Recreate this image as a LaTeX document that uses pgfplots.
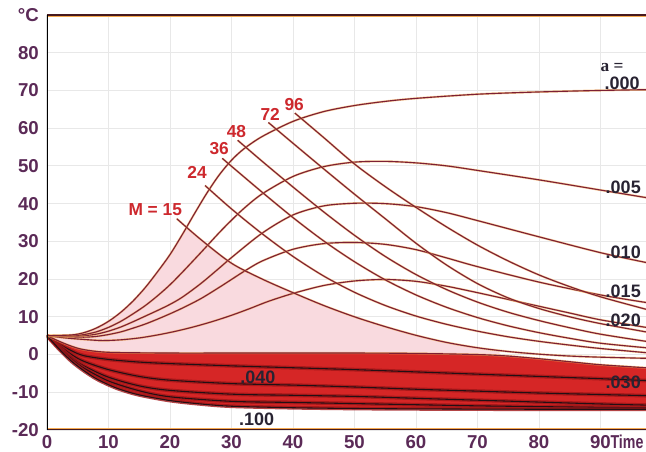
\documentclass[border=0pt]{standalone}
\usepackage{pgfplots}
\pgfplotsset{compat=1.18}
\usepackage{pgfplotstable}
\usepackage{fontspec}
\setmainfont{Liberation Sans}
\newfontfamily\serifa{Liberation Serif}
\definecolor{tickc}{RGB}{91,42,87}
\definecolor{mred}{RGB}{205,40,45}
\definecolor{alc}{RGB}{125,32,52}
\definecolor{glow}{RGB}{245,170,80}
\definecolor{pinkf}{RGB}{249,218,223}
\definecolor{redf}{RGB}{214,38,38}
\definecolor{redd}{RGB}{160,22,24}
\definecolor{blk}{RGB}{35,15,20}
\definecolor{labc}{RGB}{40,35,50}
\definecolor{frame}{RGB}{70,25,30}

\pgfplotstableread{
t T
0 5
4 5.2
6 5.8
8 7
10 8.8
12 11.2
14 14.2
16 17.8
18 22
20 26.5
22 31.8
24 37.4
26 42.8
28 47.6
30 51.5
32 54.5
35 57.8
40 61.8
45 64.4
50 66
55 67.1
60 67.9
70 69
80 69.6
90 70
97.4 70.2
}\aZero
\pgfplotstableread{
t T
0 5
4 5
6 5.3
8 6
10 7.2
12 8.8
14 10.8
16 13
18 15.6
20 18.5
22 21.8
25 27
28 32.3
30 35.6
32 38.7
35 42.6
40 47.2
45 49.8
50 51
55 51.2
60 50.8
65 50
70 48.8
80 46.3
90 43.6
97.4 41.6
}\aFive
\pgfplotstableread{
t T
0 5
4 4.9
6 5
8 5.4
10 6.2
12 7.3
14 8.7
16 10.2
18 11.7
20 13.3
22 15.2
25 18.8
28 22.9
30 25.7
35 32.2
40 37
45 39.4
50 40.1
55 40
60 39.2
65 37.6
70 35.5
80 31.2
90 27
97.4 24.4
}\aTen
\pgfplotstableread{
t T
0 5
4 4.7
6 4.6
8 4.8
10 5.3
12 6
14 7
16 8.1
18 9.4
20 10.8
22 12.3
25 14.8
28 17.8
30 19.9
32 22
35 24.8
40 27.9
45 29.4
50 29.7
55 29.2
60 27.8
65 25.6
70 23.3
80 19.2
90 15.8
97.4 13.8
}\aFifteen
\pgfplotstableread{
t T
0 5
3 4.4
6 4
9 3.7
12 3.9
15 4.4
18 5.2
21 6.2
24 7.4
27 8.8
30 10.4
33 12.2
36 14.1
40 16.2
45 18.3
50 19.5
55 19.9
60 19.4
65 18.1
70 16.4
75 14.6
80 12.8
85 11
90 9.2
97.4 7.2
}\aTwenty
\pgfplotstableread{
t T
0 5
2 3.5
4 2.2
6 1.3
10 0.6
20 0.4
30 0.4
40 0.4
50 0.4
60 0.3
70 0
75 -0.4
80 -1.1
85 -1.9
90 -2.7
97.4 -3.5
}\aThirty
\pgfplotstableread{
t T
0 5
2 2.8
4 1
6 -0.3
10 -1.3
15 -2
20 -2.4
30 -3
40 -3.5
50 -4
60 -4.6
70 -5.2
80 -5.8
90 -6.4
97.4 -6.9
}\aForty
\pgfplotstableread{
t T
0 5
2 2.4
4 0
6 -1.8
10 -4
15 -5.8
20 -6.8
30 -7.7
40 -8.1
50 -8.6
60 -9.2
70 -9.7
80 -10.2
90 -10.6
97.4 -10.9
}\aFifty
\pgfplotstableread{
t T
0 5
2 2
4 -0.8
6 -3
10 -6
15 -8.3
20 -9.5
30 -10.5
40 -10.8
50 -11.1
60 -11.6
70 -12.1
80 -12.6
90 -13.1
97.4 -13.4
}\aSixty
\pgfplotstableread{
t T
0 5
2 1.7
4 -1.2
6 -3.6
10 -7
15 -9.6
20 -11.2
30 -12.4
40 -12.7
50 -13
60 -13.3
70 -13.6
80 -13.8
90 -14
97.4 -14.1
}\aEighty
\pgfplotstableread{
t T
0 5
2 1.4
4 -1.8
6 -4.3
8 -6.4
10 -8
12 -9.3
15 -10.7
20 -12.2
25 -13.1
30 -13.7
40 -14.1
50 -14.3
60 -14.4
80 -14.5
97.4 -14.5
}\aHundred
\pgfplotstableread{
t T
21.1 36
25 30.5
30 24.2
35 20
40 16.4
45 13
50 10
55 7.4
60 5.1
65 3.2
70 1.8
75 0.8
80 0.1
85 -0.4
90 -0.7
97.4 -1.0
}\mFifteen
\pgfplotstableread{
t T
25.7 44.8
30 38.6
35 32
40 26
45 20.8
50 16.5
55 13
60 10.2
65 8
70 6.2
75 4.7
80 3.5
85 2.5
90 1.6
97.4 0.5
}\mTwentyFour
\pgfplotstableread{
t T
28.5 52
30 49.9
35 43
40 36.3
45 30.1
50 24.6
55 19.8
60 15.8
65 12.5
70 9.8
75 7.6
80 5.8
85 4.3
90 3.0
97.4 1.8
}\mThirtySix
\pgfplotstableread{
t T
31 56.8
35 51.2
40 44.4
45 37.8
50 31.6
55 26
60 21.2
65 17.2
70 13.9
75 11.2
80 9
85 7.1
90 5.4
97.4 3.5
}\mFortyEight
\pgfplotstableread{
t T
36 61.5
40 56
45 49.2
50 42.5
55 36
60 29.5
65 23.7
70 18.8
75 15
80 12.2
85 10
90 8.2
97.4 6
}\mSeventyTwo
\pgfplotstableread{
t T
40.3 64
45 57.5
50 50.5
55 44.5
60 39
65 33.8
70 29
75 24.8
80 21.1
85 18
90 15.3
97.4 12
}\mNinetySix

\pgfplotsset{
  aln/.style={alc, line width=0.85pt, smooth, preaction={draw=glow, line width=1.6pt, opacity=0.6}},
  rln/.style={blk, line width=0.8pt, smooth, preaction={draw=redd, line width=2.8pt, opacity=0.8}},
}
\tikzset{
  alab/.style={font=\bfseries\fontsize{13.5}{15}\selectfont, text=labc},
  mlab/.style={font=\bfseries\fontsize{13}{15}\selectfont, text=mred},
}

\begin{document}
\begin{tikzpicture}
\useasboundingbox (-35.25pt,-16.5pt) rectangle (449.25pt,322.5pt);
\begin{axis}[
  scale only axis,
  width=449.25pt, height=311.25pt,
  xmin=0, xmax=97.4, ymin=-20, ymax=90,
  xtick={0,10,...,90},
  xticklabels={0,10,20,30,40,50,60,70,80,90},
  ytick={-20,-10,0,10,20,30,40,50,60,70,80,90},
  yticklabels={-20,-10,0,10,20,30,40,50,60,70,80,°C},
  major tick length=0pt,
  tick label style={font=\bfseries\fontsize{14}{16}\selectfont, text=tickc},
  yticklabel style={xshift=-2.6pt},
  xticklabel style={yshift=-0.6pt},
  axis line style={draw=none},
  grid=major,
  grid style={black!9, line width=0.6pt},
]
% pink region
\addplot[fill=pinkf, draw=none] coordinates {
 (0,5) (4,5.2) (6,5.8) (8,7) (10,8.8) (12,11.2) (14,14.2) (16,17.8) (18,22) (20,26.5) (22,31.8) (22.8,33.8)
 (25,30.5) (30,24.2) (35,20) (40,16.4) (45,13) (50,10) (55,7.4) (60,5.1) (65,3.2) (70,1.8) (73.6,1.1)
 (73.6,-0.2) (70,0) (60,0.3) (50,0.4) (40,0.4) (30,0.4) (20,0.4) (10,0.6) (6,1.3) (4,2.2) (2,3.5) (0,5)
} -- cycle;
% red region
\addplot[fill=redf, draw=none] coordinates {
 (0,5) (2,3.5) (4,2.2) (6,1.3) (10,0.6) (20,0.4) (30,0.4) (40,0.4) (50,0.4) (60,0.3) (70,0) (75,-0.4)
 (80,-1.1) (85,-1.9) (90,-2.7) (97.4,-3.5)
 (97.4,-14.5) (80,-14.5) (60,-14.4) (50,-14.3) (40,-14.1) (30,-13.7) (25,-13.1) (20,-12.2) (15,-10.7)
 (12,-9.3) (10,-8) (8,-6.4) (6,-4.3) (4,-1.8) (2,1.4) (0,5)
} -- cycle;
% lines in red region
\addplot[rln] table {\aForty};
\addplot[rln] table {\aFifty};
\addplot[rln] table {\aSixty};
\addplot[rln] table {\aEighty};
\addplot[rln] table {\aHundred};
\addplot[aln] table {\aThirty};
% rising a-lines
\addplot[aln] table {\aTwenty};
\addplot[aln] table {\aFifteen};
\addplot[aln] table {\aTen};
\addplot[aln] table {\aFive};
\addplot[aln] table {\aZero};
% M lines
\addplot[aln] table {\mFifteen};
\addplot[aln] table {\mTwentyFour};
\addplot[aln] table {\mThirtySix};
\addplot[aln] table {\mFortyEight};
\addplot[aln] table {\mSeventyTwo};
\addplot[aln] table {\mNinetySix};
% labels
\node[font=\serifa\bfseries\fontsize{13}{15}\selectfont, text=labc] at (axis cs:91.9,76.1) {a =};
\node[alab] at (axis cs:93.5,71.8) {.000};
\node[alab] at (axis cs:93.7,44.3) {.005};
\node[alab] at (axis cs:93.7,27.2) {.010};
\node[alab] at (axis cs:93.7,16.8) {.015};
\node[alab] at (axis cs:93.7,9.1) {.020};
\node[alab] at (axis cs:93.7,-7.4) {.030};
\node[alab] at (axis cs:34.3,-6.1) {.040};
\node[alab] at (axis cs:34.1,-17.1) {.100};
\node[mlab] at (axis cs:17.6,38.4) {M = 15};
\node[mlab] at (axis cs:24.4,48.3) {24};
\node[mlab] at (axis cs:28.0,54.7) {36};
\node[mlab] at (axis cs:30.8,59.1) {48};
\node[mlab] at (axis cs:36.3,63.7) {72};
\node[mlab] at (axis cs:40.2,66.2) {96};
% frame
\draw[glow, line width=2.6pt] (rel axis cs:0,1) -- (rel axis cs:1,1);
\draw[frame, line width=1.3pt] (rel axis cs:0,1) -- (rel axis cs:1,1);
\draw[glow, line width=2.6pt] (rel axis cs:0,0) -- (rel axis cs:1,0);
\draw[frame, line width=1.3pt] (rel axis cs:0,0) -- (rel axis cs:1,0);
\draw[black, line width=1.7pt] (rel axis cs:0,0) -- (rel axis cs:0,1);
\end{axis}
\node[anchor=base east, font=\bfseries\fontsize{14}{16}\selectfont, text=tickc, inner sep=0pt] at (447.5pt,-14pt) {\scalebox{0.76}[1]{Time}};
\end{tikzpicture}
\end{document}
